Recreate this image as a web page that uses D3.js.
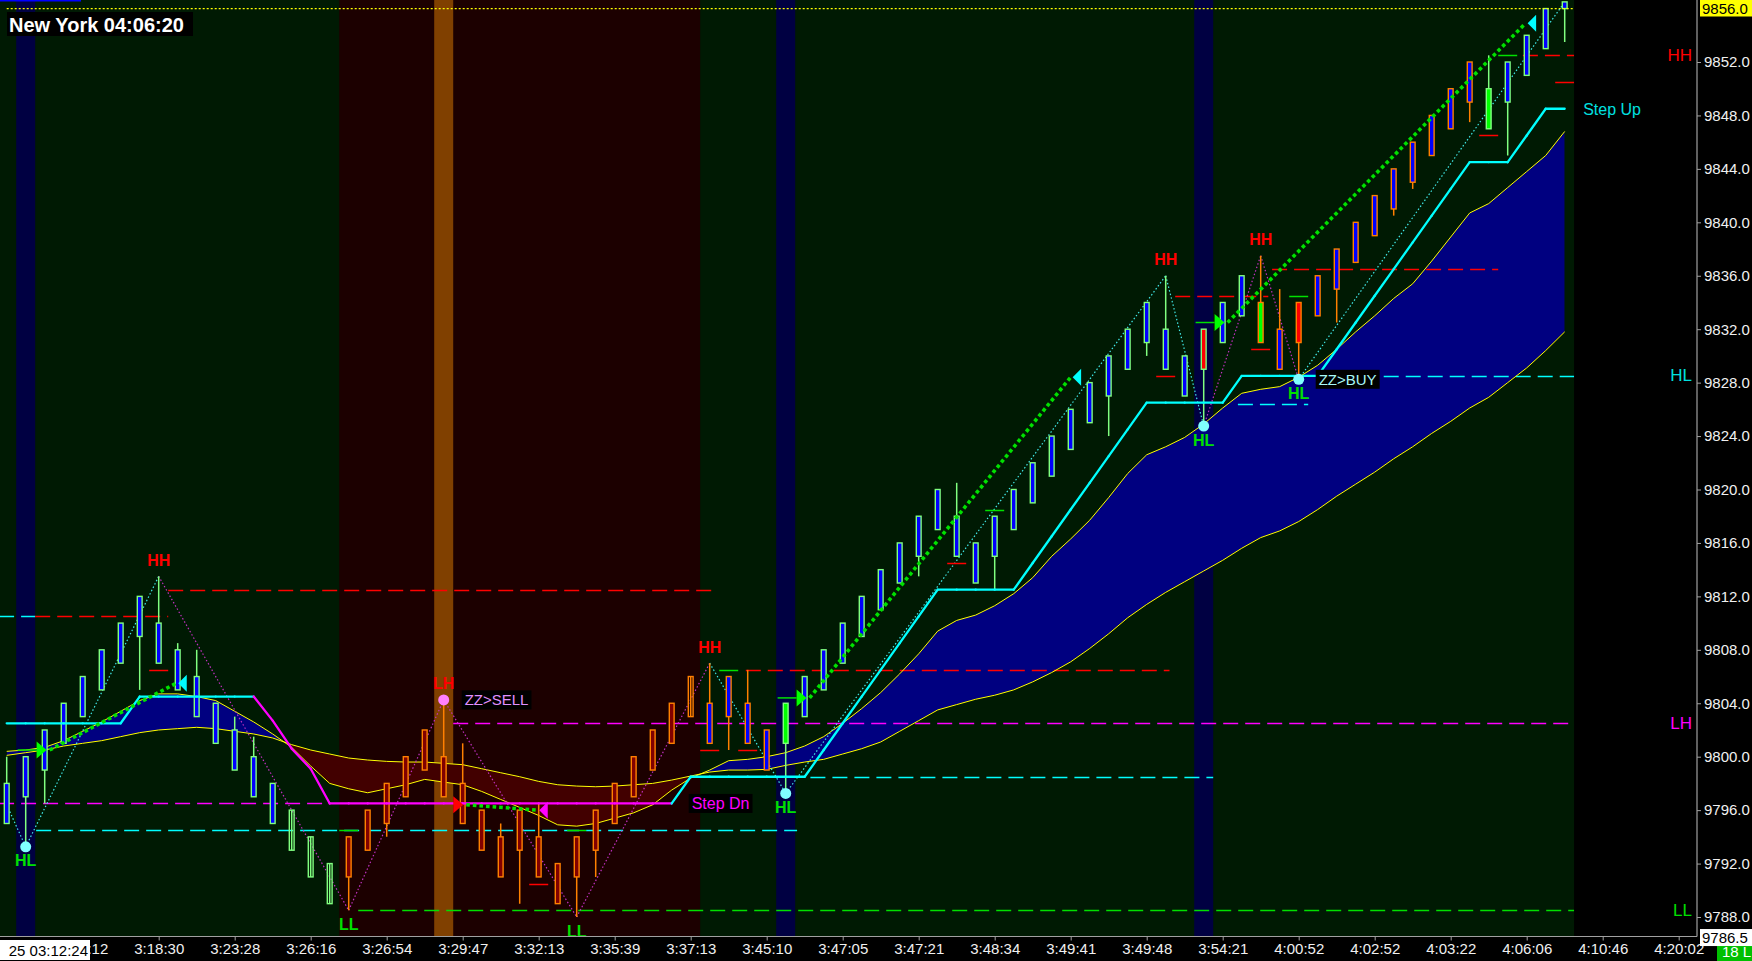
<!DOCTYPE html>
<html><head><meta charset="utf-8">
<script src="https://cdn.jsdelivr.net/npm/d3@7"></script>
<style>
html,body{margin:0;padding:0;background:#000;overflow:hidden}
svg{display:block;font-family:"Liberation Sans",Arial,sans-serif}
</style></head><body>
<svg id="c" width="1752" height="961"></svg>
<script>
// ---------------- DATA ----------------
const opens = [
9795,9797,9799,9801,9803,9805,9807,9809,9810,9808,
9806,9804,9802,9800,9798,9796,9794,9792,9791,9793,
9795,9797,9799,9800,9798,9796,9794,9793,9794,9792,
9791,9793,9795,9797,9799,9801,9803,9804,9803,9804,
9802,9801,9803,9805,9807,9809,9811,9813,9815,9817,
9818,9816,9815,9817,9819,9821,9823,9825,9827,9829,
9831,9832,9830,9829,9831,9833,9834,9832,9831,9833,
9835,9837,9839,9841,9843,9845,9847,9849,9850,9849,
9851,9853,9856];
const closes = [
9798,9800,9802,9804,9806,9808,9810,9812,9807,9805,
9803,9801,9799,9797,9795,9793,9791,9789,9794,9796,
9798,9800,9802,9797,9795,9793,9791,9796,9791,9789,
9794,9796,9798,9800,9802,9804,9806,9801,9806,9801,
9799,9804,9806,9808,9810,9812,9814,9816,9818,9820,
9815,9813,9818,9820,9822,9824,9826,9828,9830,9832,
9834,9829,9827,9832,9834,9836,9831,9829,9834,9836,
9838,9840,9842,9844,9846,9848,9850,9852,9847,9852,
9854,9856,9856.5];
const highs = [
9800,9800,9802,9804,9806,9808,9810,9812,9813.5,9808.5,
9808,9804,9803,9801.5,9798,9796,9794,9792,9794,9796,
9798,9800,9802,9804.25,9801,9796,9795,9796,9796.5,9792,
9794,9796,9798,9800,9802,9804,9806,9807,9806,9806.5,
9802,9804,9806,9808,9810,9812,9814,9816,9818,9820,
9820.5,9816,9818,9820,9822,9824,9826,9828,9830,9832,
9834,9836,9830,9832,9834,9836,9837.5,9835,9834,9836,
9838,9840,9842,9844,9846,9848,9850,9852,9852.5,9852,
9854,9856,9856.5];
const lows = [
9795,9793.25,9796.5,9801,9803,9805,9807,9805,9807,9805,
9803,9801,9799,9797,9795,9793,9791,9789,9788.5,9793,
9794,9797,9799,9797,9795,9793,9791,9789,9791,9789,
9788,9791,9795,9797,9799,9801,9803,9801,9800.5,9801,
9799,9797.25,9803,9805,9807,9809,9811,9813,9813.5,9817,
9815,9813,9812.5,9817,9819,9821,9823,9825,9824,9829,
9830,9829,9827,9824.75,9831,9833,9831,9829,9828.25,9833,
9832.5,9837,9839,9840.5,9842.5,9845,9847,9847.5,9847,9845,
9851,9853,9853.5];
// bar paint state (U up/blue, D hollow, R sell red, O hollow orange, B blue/orange, G green, Go green/orange, X red, Xo red/orange)
const barType = [
"U","U","U","U","U","U","U","U","U","U","U","U","U","U","U",
"D","D","D",
"R","R","R","R","R","R","R","R","R","R","R","R","R","R","R","R","R","R",
"O","B","B","B","B","G",
"U","U","U","U","U","U","U","U","U","U","U","U","U","U","U","U","U","U","U","U","U",
"X","U","U","Go","B","Xo",
"B","B","B","B","B","B","B","B","B",
"G","U","U","U","U"];
const fastMA = [
9800.4,9800.5,9800.7,9801.2,9801.9,9802.6,9803.4,9804.2,9804.7,9804.7,
9804.5,9804.2,9803.4,9802.6,9801.7,9800.7,9799.3,9798.0,9797.6,9797.3,
9797.6,9797.9,9798.3,9798.1,9797.9,9797.4,9796.8,9796.2,9795.6,9794.9,
9794.8,9795.0,9795.4,9795.8,9796.4,9797.5,9798.4,9799.0,9799.7,9799.8,
9800.0,9800.3,9800.8,9801.5,9802.5,9803.6,9804.8,9806.2,9807.7,9809.4,
9810.2,9810.6,9811.3,9812.2,9813.4,9815.0,9816.3,9817.7,9819.4,9821.2,
9822.6,9823.2,9823.9,9824.9,9826.1,9827.2,9827.5,9827.7,9828.4,9829.3,
9830.5,9831.8,9833.0,9834.3,9835.4,9837.1,9838.9,9840.7,9841.4,9842.6,
9843.8,9845.0,9846.8];
const slowMA = [
9800.1,9800.3,9800.5,9800.8,9801.0,9801.2,9801.5,9801.8,9802.0,9802.1,
9802.2,9802.1,9801.9,9801.7,9801.4,9800.9,9800.5,9800.2,9799.9,9799.75,
9799.65,9799.6,9799.6,9799.5,9799.4,9799.1,9798.8,9798.5,9798.15,9797.9,
9797.8,9797.75,9797.8,9797.9,9798.0,9798.25,9798.55,9798.85,9799.0,9799.0,
9799.05,9799.35,9799.6,9799.8,9800.2,9800.6,9801.1,9801.9,9802.7,9803.5,
9803.9,9804.3,9804.6,9805.0,9805.6,9806.3,9807.1,9808.1,9809.2,9810.4,
9811.4,9812.3,9813.1,9813.9,9814.7,9815.6,9816.4,9816.9,9817.6,9818.5,
9819.5,9820.4,9821.3,9822.3,9823.2,9824.2,9825.1,9826.1,9826.9,9828.0,
9829.1,9830.4,9831.8];
const stepLine = [
9802.5,9802.5,9802.5,9802.5,9802.5,9802.5,9802.5,
9804.5,9804.5,9804.5,9804.5,9804.5,9804.5,9804.5,
9802.7,9800.6,9799.1,
9796.5,9796.5,9796.5,9796.5,9796.5,9796.5,9796.5,9796.5,9796.5,9796.5,
9796.5,9796.5,9796.5,9796.5,9796.5,9796.5,9796.5,9796.5,9796.5,
9798.5,9798.5,9798.5,9798.5,9798.5,9798.5,9798.5,
9800.5,9802.5,9804.5,9806.5,9808.5,9810.5,
9812.5,9812.5,9812.5,9812.5,9812.5,
9814.5,9816.5,9818.5,9820.5,9822.5,9824.5,
9826.5,9826.5,9826.5,9826.5,9826.5,
9828.5,9828.5,9828.5,9828.5,9828.5,
9830.5,9832.5,9834.5,9836.5,9838.5,9840.5,9842.5,
9844.5,9844.5,9844.5,
9846.5,
9848.5,9848.5];
const trend = [
1,1,1,1,1,1,1,1,1,1,1,1,1,1,
-1,-1,-1,-1,-1,-1,-1,-1,-1,-1,-1,-1,-1,-1,-1,-1,-1,-1,-1,-1,-1,-1,
1,1,1,1,1,1,1,1,1,1,1,1,1,1,1,1,1,1,1,1,1,1,1,1,1,1,1,1,1,1,1,1,1,1,1,1,1,1,1,1,1,1,1,1,1,1,1];
// background session shading
const sellZone = [18, 36];
const navyBands = [1, 41, 63];
const orangeBands = [23];
// zigzag
const zzIdx = [0, 1, 8, 18, 23, 30, 37, 41, 61, 63, 66, 68, 82];
const zzVal = [9796.4, 9793.25, 9813.5, 9788.5, 9804.25, 9788, 9807, 9797.25, 9836, 9824.75, 9837.5, 9828.25, 9856.5];
const zzLeg = [1, 1, -1, -1, -1, -1, 1, 1, 1, -1, -1, 1];
const pivotIdx = [1, 8, 18, 23, 30, 37, 41, 61, 63, 66, 68];
const pivotVal = [9793.25, 9813.5, 9788.5, 9804.25, 9788, 9807, 9797.25, 9836, 9824.75, 9837.5, 9828.25];
const pivotLabel = ["HL","HH","LL","LH","LL","HH","HL","HH","HL","HH","HL"];
const dotIdx = [1, 23, 41, 63, 68];
const dotVal = [9793.25, 9804.25, 9797.25, 9824.75, 9828.25];
const dotSide = ["buy","sell","buy","buy","buy"];
// signal trails
const trailStartIdx = [2.1, 24.03, 42.1, 64.1];
const trailStartVal = [9800.5, 9796.4, 9804.4, 9832.5];
const trailEndIdx = [9.03, 28.03, 56.1, 80.05];
const trailEndVal = [9805.5, 9796.0, 9828.4, 9854.9];
const trailDir = [1, -1, 1, 1];
// level lines
const levelVal  = [9812.5, 9810.5, 9810.5, 9796.5, 9794.5, 9788.5, 9802.5, 9806.5, 9798.5, 9834.5, 9836.5, 9826.4, 9828.5, 9852.5];
const levelFrom = [8.5, -0.4, 1.5, -0.4, 1.55, 18.5, 23.5, 38.9, 42.3, 61.5, 66.6, 64.8, 69, 79.8];
const levelTo   = [37.3, 1.5, 8.5, 17, 41.6, 82.5, 82.5, 61.2, 63.5, 66.4, 78.5, 68.5, 82.5, 82.5];
const levelKind = ["r","c","r","m","c","g","m","r","c","r","r","c","c","r"];
// short markers
const markIdx  = [8, 28, 37, 39, 50, 61, 66, 78, 82, 38, 52, 68, 79, 18, 30];
const markVal  = [9806.5, 9790.5, 9800.5, 9800.5, 9814.5, 9828.5, 9830.5, 9846.5, 9850.5, 9806.5, 9818.5, 9834.5, 9852.5, 9794.5, 9794.5];
const markKind = ["r","r","r","r","r","r","r","r","r","g","g","g","g","g","g"];
// right-side level tags
const tagText = ["HH","HL","LH","LL"];
const tagVal  = [9852.5, 9828.5, 9802.5, 9788.5];
const tagKind = ["r","c","m","g"];
// axes
const priceTicks = [9788,9792,9796,9800,9804,9808,9812,9816,9820,9824,9828,9832,9836,9840,9844,9848,9852];
const timeTickIdx = [4,8,12,16,20,24,28,32,36,40,44,48,52,56,60,64,68,72,76,80,84,88];
const timeLabels = ["3:15:12","3:18:30","3:23:28","3:26:16","3:26:54","3:29:47","3:32:13","3:35:39","3:37:13","3:45:10","3:47:05","3:47:21","3:48:34","3:49:41","3:49:48","3:54:21","4:00:52","4:02:52","4:03:22","4:06:06","4:10:46","4:20:02"];
const lastPrice = 9856.0;
const lowPrice = 9786.5;
const title = "New York 04:06:20";
const cursorTime = "25 03:12:24";
const barCountText = "18 L";

// ---------------- DRAW ----------------
const W = 1752, H = 961;
const x = d3.scaleLinear().domain([0, 88]).range([6.7, 1678.7]);
const y = d3.scaleLinear().domain([9788, 9852]).range([917, 62]);
const axisX = 1697, plotB = 936.5, plotR = x(82.5);
const bw = x(1) - x(0);
const snap = v => Math.round(v) + 0.5;
const colors = {r:"#ff0000", c:"#00ffff", m:"#ff00ff", g:"#00e000"};
const tagColors = {r:"#ff0000", c:"#00e0e0", m:"#ff00ff", g:"#00e000"};
const barStyle = {
  U:{fill:"#0000ff",stroke:"#80ff80"}, D:{fill:"none",stroke:"#80ff80"},
  R:{fill:"#800000",stroke:"#ff8000"}, O:{fill:"none",stroke:"#ff8000"},
  B:{fill:"#0000ff",stroke:"#ff8000"}, G:{fill:"#00ff00",stroke:"#80ff80"},
  Go:{fill:"#00ff00",stroke:"#ff8000"}, X:{fill:"#ff0000",stroke:"#80ff80"},
  Xo:{fill:"#ff0000",stroke:"#ff8000"}};

const svg = d3.select("#c");
const defs = svg.append("defs");
defs.append("clipPath").attr("id","plot").append("rect").attr("x",0).attr("y",0).attr("width",plotR).attr("height",plotB);
defs.append("clipPath").attr("id","xlab").append("rect").attr("x",90).attr("y",0).attr("width",W).attr("height",40);
const idx = d3.range(fastMA.length);
defs.append("clipPath").attr("id","above").append("path")
  .attr("d", d3.area().x(i=>x(i)).y0(i=>y(slowMA[i])).y1(0)(idx));
defs.append("clipPath").attr("id","below").append("path")
  .attr("d", d3.area().x(i=>x(i)).y0(i=>y(slowMA[i])).y1(plotB)(idx));

svg.append("rect").attr("width",W).attr("height",H).attr("fill","#000");
const g = svg.append("g").attr("clip-path","url(#plot)");
g.append("rect").attr("x",0).attr("y",0).attr("width",plotR).attr("height",plotB).attr("fill","#001a03");
g.append("rect").attr("x",x(sellZone[0]-0.5)).attr("y",0).attr("width",x(sellZone[1]+0.5)-x(sellZone[0]-0.5)).attr("height",plotB).attr("fill","#1c0000");
g.selectAll(".nb").data(navyBands).enter().append("rect").attr("x",d=>x(d-0.5)).attr("y",0).attr("width",bw).attr("height",plotB).attr("fill","#000042");
g.selectAll(".ob").data(orangeBands).enter().append("rect").attr("x",d=>x(d-0.5)).attr("y",0).attr("width",bw).attr("height",plotB).attr("fill","#804000");

// cloud
const cloud = d3.area().x(i=>x(i)).y0(i=>y(fastMA[i])).y1(i=>y(slowMA[i]));
g.append("path").attr("d",cloud(idx)).attr("fill","#000080").attr("clip-path","url(#above)");
g.append("path").attr("d",cloud(idx)).attr("fill","#420000").attr("clip-path","url(#below)");

// level lines
levelVal.forEach((v,k)=>{
  g.append("line").attr("x1",x(levelFrom[k])).attr("x2",x(levelTo[k])).attr("y1",snap(y(v))).attr("y2",snap(y(v)))
   .attr("stroke",colors[levelKind[k]]).attr("stroke-width",1.5).attr("stroke-dasharray","15,7");
});

// MAs
const ln = arr => d3.line().x(i=>x(i)).y(i=>y(arr[i]))(idx);
g.append("path").attr("d",ln(fastMA)).attr("fill","none").attr("stroke","#ffff00").attr("stroke-width",1);
g.append("path").attr("d",ln(slowMA)).attr("fill","none").attr("stroke","#ffff00").attr("stroke-width",1);

// zigzag
for (let k=0;k<zzIdx.length-1;k++){
  g.append("line").attr("x1",x(zzIdx[k])).attr("y1",y(zzVal[k])).attr("x2",x(zzIdx[k+1])).attr("y2",y(zzVal[k+1]))
   .attr("stroke",zzLeg[k]>0?"#40e8e8":"#c030c0").attr("stroke-width",1.2).attr("stroke-dasharray","1.5,2.2");
}

// candles
idx.forEach(i=>{
  const st = barStyle[barType[i]];
  g.append("line").attr("x1",x(i)).attr("x2",x(i)).attr("y1",y(highs[i])).attr("y2",y(lows[i]))
   .attr("stroke",st.stroke).attr("stroke-width",1.5);
  const top = y(Math.max(opens[i],closes[i])), bot = y(Math.min(opens[i],closes[i]));
  g.append("rect").attr("x",x(i)-2.4).attr("y",top).attr("width",4.8).attr("height",Math.max(1,bot-top))
   .attr("fill",st.fill==="none"?"none":st.fill).attr("stroke",st.stroke).attr("stroke-width",1.4);
});

// step line
for (let i=1;i<stepLine.length;i++){
  g.append("line").attr("x1",x(i-1)).attr("y1",y(stepLine[i-1])).attr("x2",x(i)).attr("y2",y(stepLine[i]))
   .attr("stroke",trend[i]>0?"#00ffff":"#ff00ff").attr("stroke-width",2.3).attr("stroke-linecap","round");
}

// markers
markIdx.forEach((m,k)=>{
  g.append("line").attr("x1",x(m-0.5)).attr("x2",x(m+0.5)).attr("y1",snap(y(markVal[k]))).attr("y2",snap(y(markVal[k])))
   .attr("stroke",markKind[k]==="r"?"#ff0000":"#00e000").attr("stroke-width",1.5);
});

// trails + triangles
trailStartIdx.forEach((s,k)=>{
  const sx=x(s), sy=y(trailStartVal[k]), ex=x(trailEndIdx[k]), ey=y(trailEndVal[k]);
  g.append("line").attr("x1",sx+3).attr("y1",sy).attr("x2",ex-2).attr("y2",ey)
   .attr("stroke","#00e000").attr("stroke-width",3.6).attr("stroke-dasharray","3.6,3");
  if (trailDir[k]>0){
    g.append("line").attr("x1",sx-29).attr("x2",sx-10).attr("y1",sy).attr("y2",sy).attr("stroke","#00e000").attr("stroke-width",1.5);
  }
  g.append("path").attr("d",`M${sx},${sy}L${sx-10},${sy-8.5}L${sx-10},${sy+8.5}Z`).attr("fill",trailDir[k]>0?"#00ff00":"#ff0000");
  g.append("path").attr("d",`M${ex},${ey}L${ex+8.5},${ey-8.5}L${ex+8.5},${ey+8.5}Z`).attr("fill",trailDir[k]>0?"#00ffff":"#ff00ff");
});

// pivot dots
dotIdx.forEach((d,k)=>{
  g.append("circle").attr("cx",x(d)).attr("cy",y(dotVal[k])).attr("r",5.5).attr("fill",dotSide[k]==="buy"?"#80ffff":"#ff80ff");
});

// pivot labels
pivotIdx.forEach((p,k)=>{
  const isHigh = pivotLabel[k][1]==="H";
  g.append("text").attr("x",x(p)).attr("y",y(pivotVal[k])+(isHigh?-16:14)).attr("text-anchor","middle")
   .attr("dominant-baseline","central").attr("font-size",16).attr("font-weight","bold")
   .attr("fill",isHigh?"#ff0000":"#00e000").text(pivotLabel[k]);
});

// signal text boxes
function boxText(px, py, txt, color, size){
  const t = g.append("text").attr("x",px+3).attr("y",py).attr("dominant-baseline","central")
    .attr("font-size",size).attr("fill",color).text(txt);
  const bb = t.node().getBBox();
  g.insert("rect", ()=>t.node()).attr("x",px).attr("y",bb.y-1).attr("width",bb.width+6).attr("height",bb.height+2).attr("fill","#000");
}
boxText(x(23)+18, y(dotVal[1]), "ZZ>SELL", "#e090ff", 15);
boxText(x(68)+17, y(dotVal[4]), "ZZ>BUY", "#a8f8f8", 15);
boxText(x(35)+17, y(stepLine[35]), "Step Dn", "#ff00ff", 16);

// current price dotted line
g.append("line").attr("x1",x(0)).attr("x2",plotR).attr("y1",y(lastPrice)).attr("y2",y(lastPrice))
 .attr("stroke","#ffff00").attr("stroke-width",1.3).attr("stroke-dasharray","2,2");

// outside plot: step up label + level tags
svg.append("text").attr("x",plotR+9).attr("y",y(stepLine[82])+1).attr("dominant-baseline","central")
 .attr("font-size",16).attr("fill","#00e0e0").text("Step Up");
tagText.forEach((t,k)=>{
  svg.append("text").attr("x",1692).attr("y",y(tagVal[k])).attr("text-anchor","end").attr("dominant-baseline","central")
   .attr("font-size",17).attr("fill",tagColors[tagKind[k]]).text(t);
});

// axes
const yAxis = svg.append("g").attr("transform",`translate(${axisX},0)`)
  .call(d3.axisRight(y).tickValues(priceTicks).tickFormat(d=>d.toFixed(1)).tickSize(4).tickPadding(3));
yAxis.select(".domain").remove();
yAxis.selectAll("line").attr("stroke","#a0a0a0");
yAxis.selectAll("text").attr("fill","#f0f0f0").attr("font-size",15).attr("font-family","Liberation Sans, Arial");
svg.append("line").attr("x1",axisX).attr("x2",axisX).attr("y1",0).attr("y2",plotB).attr("stroke","#a0a0a0").attr("stroke-width",1.2);

const xAxis = svg.append("g").attr("transform",`translate(0,${plotB})`).attr("clip-path","url(#xlab)")
  .call(d3.axisBottom(x).tickValues(timeTickIdx).tickFormat((d,i)=>timeLabels[i]).tickSize(4).tickPadding(3));
xAxis.select(".domain").remove();
xAxis.selectAll("line").attr("stroke","#a0a0a0");
xAxis.selectAll("text").attr("fill","#f0f0f0").attr("font-size",15).attr("font-family","Liberation Sans, Arial");
svg.append("line").attr("x1",0).attr("x2",axisX).attr("y1",plotB).attr("y2",plotB).attr("stroke","#a0a0a0").attr("stroke-width",1.2);

// boxes
svg.append("rect").attr("x",0).attr("y",940).attr("width",90).attr("height",20).attr("fill","#fff");
svg.append("text").attr("x",88).attr("y",950).attr("text-anchor","end").attr("dominant-baseline","central").attr("font-size",15).attr("fill","#000").text(cursorTime);
svg.append("rect").attr("x",1717).attr("y",940).attr("width",35).attr("height",21).attr("fill","#00c000");
svg.append("text").attr("x",1722).attr("y",951).attr("dominant-baseline","central").attr("font-size",15).attr("fill","#fff").text(barCountText);
svg.append("rect").attr("x",1700).attr("y",y(lowPrice)-8).attr("width",52).attr("height",17).attr("fill","#fff");
svg.append("text").attr("x",1702).attr("y",y(lowPrice)).attr("dominant-baseline","central").attr("font-size",15).attr("fill","#000").text(lowPrice.toFixed(1));
svg.append("rect").attr("x",1700).attr("y",0).attr("width",52).attr("height",16.5).attr("fill","#ffff00");
svg.append("text").attr("x",1702).attr("y",y(lastPrice)).attr("dominant-baseline","central").attr("font-size",15).attr("fill","#000").text(lastPrice.toFixed(1));

// title
svg.append("rect").attr("x",0).attr("y",0).attr("width",81).attr("height",1.5).attr("fill","#0000ff");
svg.append("rect").attr("x",7).attr("y",12).attr("width",186).attr("height",24).attr("fill","#000");
svg.append("text").attr("x",9).attr("y",24.5).attr("dominant-baseline","central").attr("font-size",20).attr("font-weight","bold").attr("fill","#fff").text(title);
</script>
</body></html>
